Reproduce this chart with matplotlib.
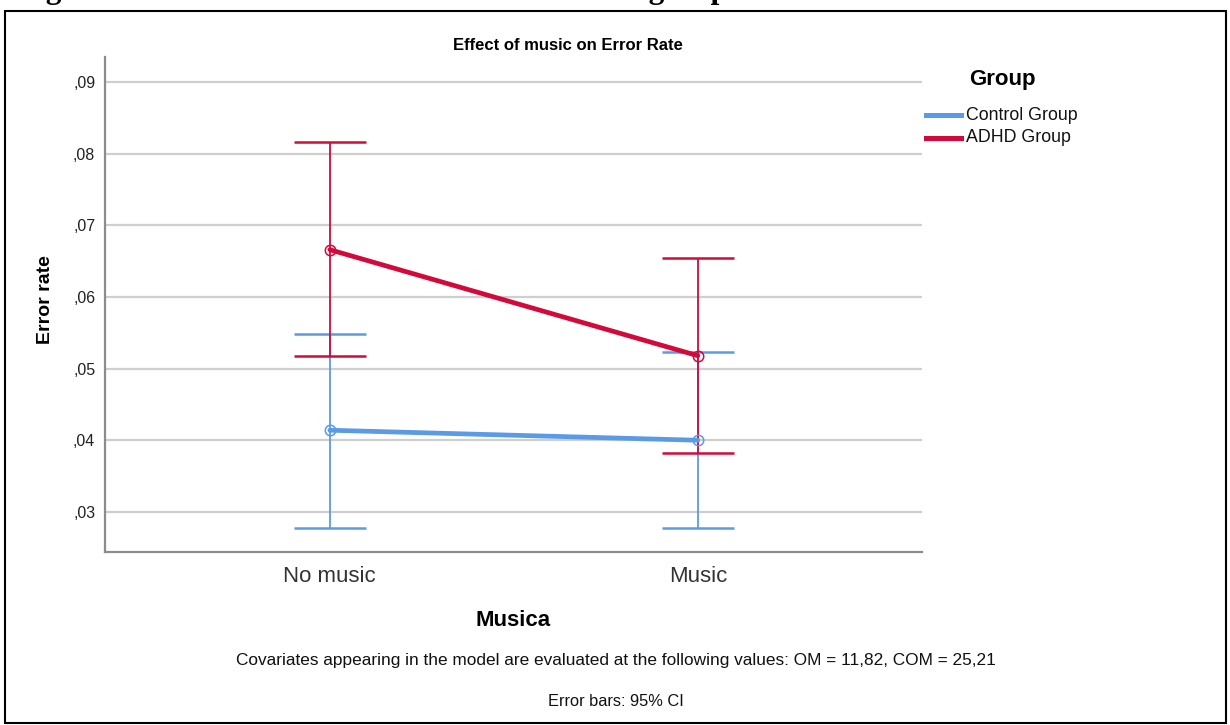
import matplotlib
matplotlib.use("Agg")
import matplotlib.pyplot as plt
from matplotlib.patches import Rectangle
from matplotlib.lines import Line2D

plt.rcParams['font.family'] = ['Liberation Sans', 'DejaVu Sans']

# ---- data ----
categories = ["No music", "Music"]
groups = ["Control Group", "ADHD Group"]
control_mean = [0.0414, 0.0400]
control_low = [0.0278, 0.0277]
control_high = [0.0549, 0.0523]
adhd_mean = [0.0666, 0.0518]
adhd_low = [0.0517, 0.0382]
adhd_high = [0.0817, 0.0655]
yticks = [0.03, 0.04, 0.05, 0.06, 0.07, 0.08, 0.09]
ytick_labels = [",03", ",04", ",05", ",06", ",07", ",08", ",09"]

colors = {"Control Group": "#5B9BE5", "ADHD Group": "#D20A3C"}

W, H = 1230, 725
fig = plt.figure(figsize=(W / 100, H / 100), dpi=100)
fig.patch.set_facecolor("white")

def fx(px):
    return px / W

def fy(py):
    return 1 - py / H

ax = fig.add_axes([fx(105), fy(552), (922 - 105) / W, (552 - 57) / H])

x = list(range(len(categories)))
series = [
    ("Control Group", control_mean, control_low, control_high),
    ("ADHD Group", adhd_mean, adhd_low, adhd_high),
]
for name, m, lo, hi in series:
    c = colors[name]
    yerr = [[mi - l for mi, l in zip(m, lo)], [h - mi for mi, h in zip(m, hi)]]
    ax.errorbar(x, m, yerr=yerr, fmt="none", ecolor=c, elinewidth=1.3,
                capsize=26, capthick=1.8, zorder=3)
    ax.plot(x, m, color=c, lw=3.4, zorder=4, solid_capstyle="round")
    ax.plot(x, m, "o", mfc="none", mec=c, ms=7.5, mew=1.1, zorder=5)

ax.set_xlim(-0.611, 1.609)
ax.set_ylim(0.0244, 0.0935)
ax.set_xticks(x)
ax.set_xticklabels(categories, fontsize=16, color="#333333")
ax.set_yticks(yticks)
ax.set_yticklabels(ytick_labels, fontsize=11.5, color="#222222")
ax.tick_params(axis="both", length=0)
ax.tick_params(axis="y", pad=7)
ax.tick_params(axis="x", pad=10)
ax.grid(axis="y", color="#cfcfcf", lw=1.6, zorder=0)
ax.set_axisbelow(True)
for s in ["top", "right"]:
    ax.spines[s].set_visible(False)
for s in ["left", "bottom"]:
    ax.spines[s].set_color("#8c8c8c")
    ax.spines[s].set_linewidth(1.6)

fig.text(fx(568), fy(45), "Effect of music on Error Rate", fontsize=12,
         fontweight="bold", ha="center", va="center")
fig.text(fx(45), fy(300), "Error rate", fontsize=14, fontweight="bold",
         rotation=90, ha="center", va="center")
fig.text(fx(513), fy(621), "Musica", fontsize=16, fontweight="bold",
         ha="center", va="center")
fig.text(fx(616), fy(661),
         "Covariates appearing in the model are evaluated at the following values: OM = 11,82, COM = 25,21",
         fontsize=12.4, ha="center", va="center", color="#111111")
fig.text(fx(616), fy(701), "Error bars: 95% CI", fontsize=11.8,
         ha="center", va="center", color="#111111")

# legend (drawn in figure pixel positions)
fig.text(fx(969), fy(79), "Group", fontsize=16, fontweight="bold",
         ha="left", va="center")
for i, g in enumerate(groups):
    yy = fy(115 + 23 * i)
    fig.add_artist(Line2D([fx(926), fx(961)], [yy, yy], color=colors[g], lw=3.6,
                          transform=fig.transFigure))
    fig.text(fx(966), yy, g, fontsize=12.8, ha="left", va="center",
             color="#111111")

# outer border
fig.patches.append(Rectangle((fx(5), fy(723)), fx(1226) - fx(5), fy(11) - fy(723),
                             transform=fig.transFigure, fill=False,
                             edgecolor="black", lw=1.5))

# clipped caption at the very top (only its lower edge is visible)
fig.text(fx(18), fy(-2.5), "Figure 2. Error rate as a function of music and group.",
         fontsize=22.5, fontweight="bold", family=["Liberation Serif", "DejaVu Serif"],
         ha="left", va="baseline")

fig.savefig("out.png", dpi=100)
